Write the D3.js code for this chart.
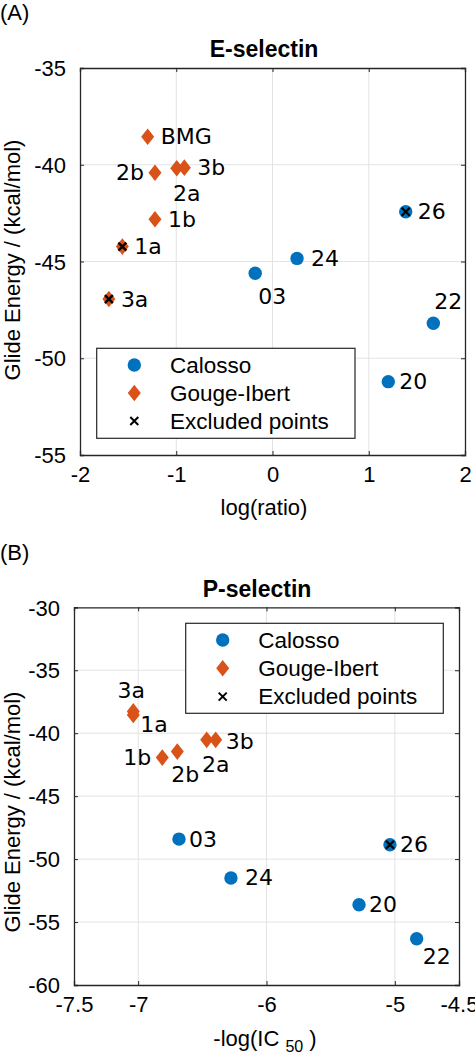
<!DOCTYPE html>
<html><head><meta charset="utf-8">
<script src="https://cdn.jsdelivr.net/npm/d3@7"></script>
<style>body{margin:0;background:#fff;} svg{display:block;}</style>
</head><body>
<svg id="chart" width="475" height="1056"></svg>
<script>
// ---------- Panel A data: E-selectin ----------
const eCalossoLabels = ["03", "24", "26", "22", "20"];
const eCalossoX = [-0.18, 0.255, 1.384, 1.671, 1.203];
const eCalossoY = [-45.61, -44.84, -42.43, -48.19, -51.21];
const eGougeLabels = ["BMG", "2b", "2a", "3b", "1b", "1a", "3a"];
const eGougeX = [-1.297, -1.221, -0.995, -0.916, -1.221, -1.56, -1.70];
const eGougeY = [-38.55, -40.41, -40.18, -40.15, -42.82, -44.23, -46.94];
const eExcluded = ["26", "1a", "3a"];
const eXTicks = [-2, -1, 0, 1, 2];
const eYTicks = [-55, -50, -45, -40, -35];

// ---------- Panel B data: P-selectin ----------
const pCalossoLabels = ["03", "26", "24", "20", "22"];
const pCalossoX = [-6.682, -5.038, -6.277, -5.279, -4.83];
const pCalossoY = [-48.41, -48.86, -51.5, -53.63, -56.33];
const pGougeLabels = ["3a", "1a", "1b", "2b", "2a", "3b"];
const pGougeX = [-7.038, -7.038, -6.812, -6.695, -6.466, -6.396];
const pGougeY = [-38.27, -38.55, -41.94, -41.46, -40.53, -40.53];
const pExcluded = ["26"];
const pXTicks = [-7.5, -7, -6, -5, -4.5];
const pYTicks = [-60, -55, -50, -45, -40, -35, -30];

const legendNames = ["Calosso", "Gouge-Ibert", "Excluded points"];

// ---------- presentation ----------
const BLUE = "#0072BD", ORANGE = "#D95319", AX = "#262626", GRID = "#e3e3e3";
const SANS = "'Liberation Sans', Arial, Helvetica, sans-serif";
const DJV = "'DejaVu Sans', sans-serif";
const TICK_FS = 22, LABEL_FS = 22, PT_FS = 22, LEG_FS = 22.5, TITLE_FS = 23;

// label placement: [anchor, dx, dy]
const eLabelPos = {
  "BMG": ["start", 13, 0], "2b": ["end", -11, 0], "2a": ["middle", 10, 25], "3b": ["start", 13, 0],
  "1b": ["start", 13, 0], "1a": ["start", 12, 0], "3a": ["start", 12, 0],
  "03": ["middle", 17, 23], "24": ["start", 14, 0], "26": ["start", 12, 0],
  "22": ["middle", 15, -22], "20": ["start", 11, 0]
};
const pLabelPos = {
  "3a": ["middle", -2, -21], "1a": ["start", 7, 10], "1b": ["end", -11, 0], "2b": ["middle", 8, 23],
  "2a": ["middle", 9, 25], "3b": ["start", 10, 2],
  "03": ["start", 10, 0], "26": ["start", 10, 0], "24": ["start", 14, 0], "20": ["start", 10, 0],
  "22": ["middle", 20, 18]
};

const svg = d3.select("#chart");

function zip(labels, xs, ys, group) {
  return labels.map((l, i) => ({ label: l, x: xs[i], y: ys[i], group }));
}

function diamondPath(cx, cy) {
  const w = 6.5, h = 8.3;
  return `M${cx},${cy - h}L${cx + w},${cy}L${cx},${cy + h}L${cx - w},${cy}Z`;
}
function crossPath(cx, cy) {
  const s = 4;
  return `M${cx - s},${cy - s}L${cx + s},${cy + s}M${cx - s},${cy + s}L${cx + s},${cy - s}`;
}

const fmt = d => String(d);

function drawPanel(cfg) {
  const g = svg.append("g");
  const x = d3.scaleLinear().domain(cfg.xDomain).range([cfg.left, cfg.right]);
  const y = d3.scaleLinear().domain(cfg.yDomain).range([cfg.bottom, cfg.top]);

  // panel letter
  g.append("text").attr("x", 0).attr("y", cfg.letterY).attr("font-family", SANS)
    .attr("font-size", 22).attr("fill", "#000").text(cfg.letter);

  // grid
  g.append("g").selectAll("line").data(cfg.xTicks.filter(t => t > cfg.xDomain[0] && t < cfg.xDomain[1]))
    .join("line").attr("x1", d => x(d)).attr("x2", d => x(d))
    .attr("y1", cfg.top).attr("y2", cfg.bottom).attr("stroke", GRID).attr("stroke-width", 1);
  g.append("g").selectAll("line").data(cfg.yTicks.filter(t => t > cfg.yDomain[0] && t < cfg.yDomain[1]))
    .join("line").attr("y1", d => y(d)).attr("y2", d => y(d))
    .attr("x1", cfg.left).attr("x2", cfg.right).attr("stroke", GRID).attr("stroke-width", 1);

  // axes (inner ticks) via d3 axis
  const tl = 4;
  const xb = g.append("g").attr("transform", `translate(0,${cfg.bottom})`)
    .call(d3.axisBottom(x).tickValues(cfg.xTicks).tickSize(-tl).tickPadding(8).tickFormat(fmt));
  const xt = g.append("g").attr("transform", `translate(0,${cfg.top})`)
    .call(d3.axisTop(x).tickValues(cfg.xTicks).tickSize(-tl).tickFormat(() => ""));
  const yl = g.append("g").attr("transform", `translate(${cfg.left},0)`)
    .call(d3.axisLeft(y).tickValues(cfg.yTicks).tickSize(-tl).tickPadding(14).tickFormat(fmt));
  const yr = g.append("g").attr("transform", `translate(${cfg.right},0)`)
    .call(d3.axisRight(y).tickValues(cfg.yTicks).tickSize(-tl).tickFormat(() => ""));
  [xb, xt, yl, yr].forEach(a => {
    a.select(".domain").attr("stroke", AX).attr("stroke-width", 1.3);
    a.selectAll(".tick line").attr("stroke", AX).attr("stroke-width", 1);
    a.selectAll("text").attr("font-family", SANS).attr("font-size", TICK_FS).attr("fill", "#000");
  });
  xt.selectAll(".tick text").remove();
  yr.selectAll(".tick text").remove();
  xb.selectAll(".tick text").attr("dy", "0.71em").attr("y", 11);
  yl.selectAll(".tick text").attr("dy", "0.35em");

  // title
  g.append("text").attr("x", cfg.titleX).attr("y", cfg.titleY).attr("text-anchor", "middle")
    .attr("dominant-baseline", "central").attr("font-family", SANS).attr("font-weight", "bold")
    .attr("font-size", TITLE_FS).text(cfg.title);

  // y label
  g.append("text").attr("transform", `translate(${cfg.yLabelX},${cfg.yLabelY}) rotate(-90)`)
    .attr("text-anchor", "middle").attr("dominant-baseline", "central")
    .attr("font-family", SANS).attr("font-size", LABEL_FS).text("Glide Energy / (kcal/mol)");

  // x label
  cfg.xLabel(g);

  // points
  const pts = cfg.data;
  const ptsG = g.append("g");
  ptsG.selectAll("circle").data(pts.filter(d => d.group === "C")).join("circle")
    .attr("cx", d => x(d.x)).attr("cy", d => y(d.y)).attr("r", 6.7).attr("fill", BLUE);
  ptsG.selectAll("path.dia").data(pts.filter(d => d.group === "G")).join("path").attr("class", "dia")
    .attr("d", d => diamondPath(x(d.x), y(d.y))).attr("fill", ORANGE);
  ptsG.selectAll("path.ex").data(pts.filter(d => cfg.excluded.includes(d.label))).join("path").attr("class", "ex")
    .attr("d", d => crossPath(x(d.x), y(d.y))).attr("stroke", "#000").attr("stroke-width", 2.4).attr("fill", "none");

  // point labels
  ptsG.selectAll("text").data(pts).join("text")
    .attr("x", d => x(d.x) + cfg.labelPos[d.label][1])
    .attr("y", d => y(d.y) + cfg.labelPos[d.label][2])
    .attr("text-anchor", d => cfg.labelPos[d.label][0])
    .attr("dominant-baseline", "central")
    .attr("font-family", DJV).attr("font-size", PT_FS).attr("fill", "#000")
    .text(d => d.label);

  // legend
  const L = cfg.legend;
  const lg = g.append("g");
  lg.append("rect").attr("x", L.x).attr("y", L.y).attr("width", L.w).attr("height", L.h)
    .attr("fill", "#fff").attr("stroke", AX).attr("stroke-width", 1.2);
  legendNames.forEach((name, i) => {
    const cy = L.y + L.first + i * L.step;
    const mx = L.x + L.markerDx;
    if (i === 0) lg.append("circle").attr("cx", mx).attr("cy", cy).attr("r", 6.7).attr("fill", BLUE);
    if (i === 1) lg.append("path").attr("d", diamondPath(mx, cy)).attr("fill", ORANGE);
    if (i === 2) lg.append("path").attr("d", crossPath(mx, cy)).attr("stroke", "#000").attr("stroke-width", 2).attr("fill", "none");
    lg.append("text").attr("x", L.x + L.textDx).attr("y", cy).attr("dominant-baseline", "central")
      .attr("font-family", SANS).attr("font-size", LEG_FS).text(name);
  });
}

drawPanel({
  letter: "(A)", letterY: 20,
  left: 80, right: 465, top: 68, bottom: 455,
  xDomain: [-2, 2], yDomain: [-55, -35], xTicks: eXTicks, yTicks: eYTicks,
  title: "E-selectin", titleX: 264, titleY: 49,
  yLabelX: 12, yLabelY: 260,
  xLabel: g => g.append("text").attr("x", 264).attr("y", 507).attr("text-anchor", "middle")
    .attr("dominant-baseline", "central").attr("font-family", SANS).attr("font-size", LABEL_FS).text("log(ratio)"),
  data: zip(eCalossoLabels, eCalossoX, eCalossoY, "C").concat(zip(eGougeLabels, eGougeX, eGougeY, "G")),
  excluded: eExcluded, labelPos: eLabelPos,
  legend: { x: 96.7, y: 348.3, w: 258.3, h: 90, first: 16.7, step: 28, markerDx: 37.6, textDx: 73.3 }
});

drawPanel({
  letter: "(B)", letterY: 560,
  left: 74, right: 459, top: 607.3, bottom: 985,
  xDomain: [-7.5, -4.5], yDomain: [-60, -30], xTicks: pXTicks, yTicks: pYTicks,
  title: "P-selectin", titleX: 257, titleY: 589,
  yLabelX: 12, yLabelY: 812,
  xLabel: g => {
    const t = g.append("text").attr("x", 265).attr("y", 1046).attr("text-anchor", "middle")
      .attr("font-family", SANS).attr("font-size", LABEL_FS);
    t.append("tspan").text("-log(IC ");
    t.append("tspan").attr("font-size", 16).attr("dy", 6).text("50");
    t.append("tspan").attr("dy", -6).text(" )");
  },
  data: zip(pCalossoLabels, pCalossoX, pCalossoY, "C").concat(zip(pGougeLabels, pGougeX, pGougeY, "G")),
  excluded: pExcluded, labelPos: pLabelPos,
  legend: { x: 185.7, y: 623.3, w: 257.6, h: 90, first: 16.7, step: 28.3, markerDx: 37, textDx: 72.6 }
});
</script>
</body></html>
